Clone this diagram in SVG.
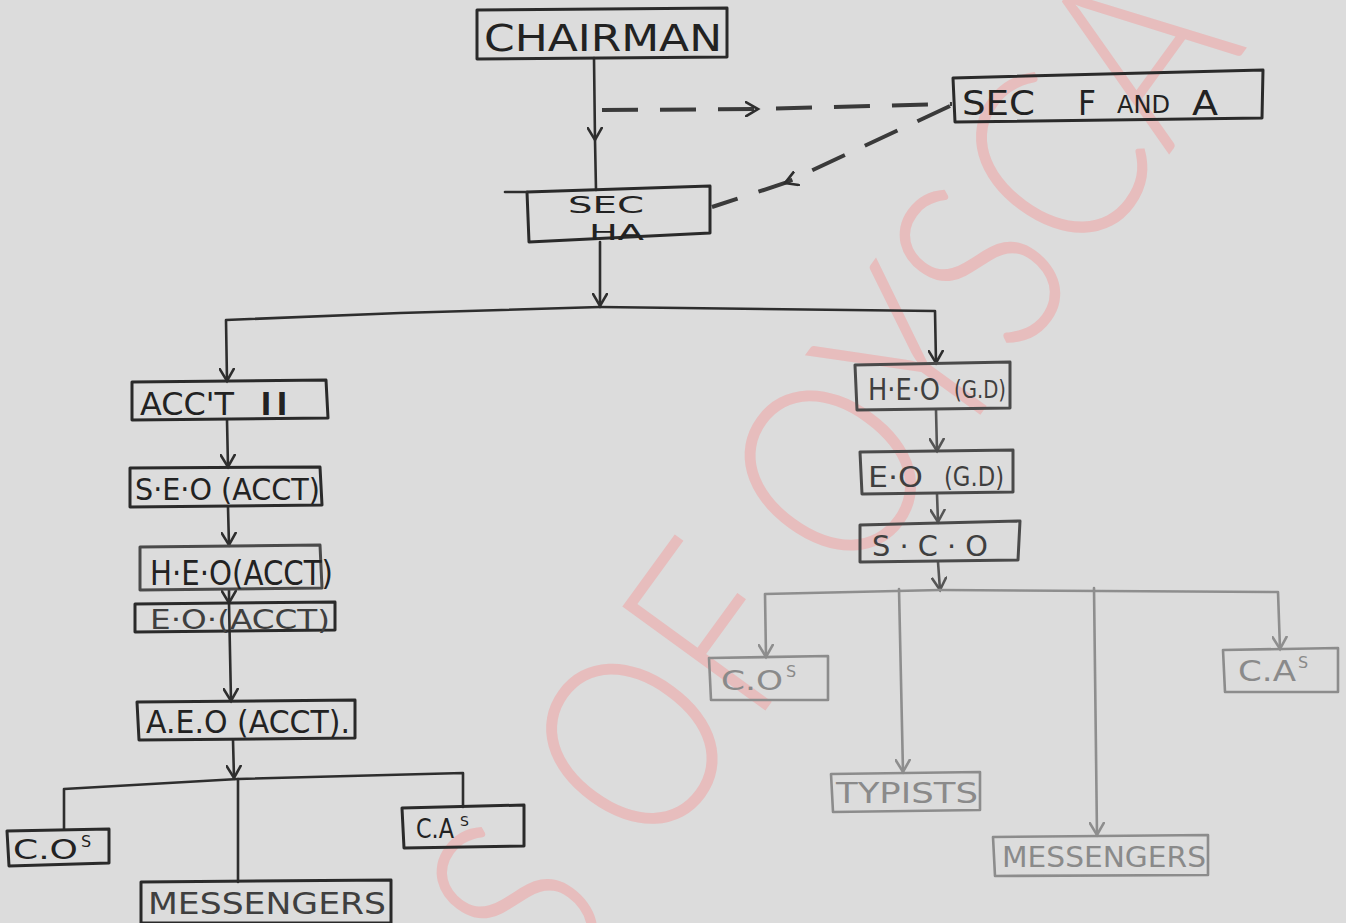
<svg xmlns="http://www.w3.org/2000/svg" width="1346" height="923" viewBox="0 0 1346 923">
<defs>
<style>
.bg{fill:#dcdcdc}
.wm{font-family:Lato,"DejaVu Sans",sans-serif;font-weight:300;fill:#f0a4a4;opacity:.55}
.box{fill:none;stroke:#2a2a2a;stroke-width:3;stroke-linejoin:round}
.box.mid{stroke:#4a4a4a}
.box.lt{stroke:#8c8c8c;stroke-width:2.6}
.ln{fill:none;stroke:#2e2e2e;stroke-width:2.6;stroke-linecap:round;stroke-linejoin:round}
.ln.mid{stroke:#555}
.ln.lt{stroke:#8e8e8e}
.dash{fill:none;stroke:#3a3a3a;stroke-width:4;stroke-dasharray:36 22;stroke-linecap:butt}
.t{font-family:"DejaVu Sans","Liberation Sans",sans-serif;fill:#222}
.t.mid{fill:#3f3f3f}
.t.lt{fill:#8a8a8a}
</style>
<marker id="ad" viewBox="0 0 16 16" refX="13" refY="8" markerWidth="16" markerHeight="16" markerUnits="userSpaceOnUse" orient="auto">
<path d="M1,1 L13,8 L1,15" fill="none" stroke="#2e2e2e" stroke-width="2.6" stroke-linecap="round"/>
</marker>
<marker id="am" viewBox="0 0 16 16" refX="13" refY="8" markerWidth="16" markerHeight="16" markerUnits="userSpaceOnUse" orient="auto">
<path d="M1,1 L13,8 L1,15" fill="none" stroke="#555" stroke-width="2.6" stroke-linecap="round"/>
</marker>
<marker id="al" viewBox="0 0 16 16" refX="13" refY="8" markerWidth="16" markerHeight="16" markerUnits="userSpaceOnUse" orient="auto">
<path d="M1,1 L13,8 L1,15" fill="none" stroke="#8e8e8e" stroke-width="2.6" stroke-linecap="round"/>
</marker>
</defs>
<rect class="bg" x="0" y="0" width="1346" height="923"/>
<g id="watermark">
<text class="wm" x="0" y="0" font-size="250" transform="translate(555,1000) rotate(-54)" textLength="1180" lengthAdjust="spacingAndGlyphs">S OF OYSCA</text>
</g>
<g id="connectors">
<path class="ln" d="M594,58 L595,140 L596,190" marker-mid="url(#ad)"/>
<path class="dash" d="M602,110 L758,109 L952,104" marker-mid="url(#ad)"/>
<path class="dash" d="M950,106 L785,183 L712,207" marker-mid="url(#ad)"/>
<path class="ln" d="M600,242 L600,306" marker-end="url(#ad)"/>
<path class="ln" d="M600,307 L400,313 L226,320 L227,381" marker-end="url(#ad)"/>
<path class="ln" d="M600,307 L935,311 L936,363" marker-end="url(#ad)"/>
<path class="ln" d="M227,420 L228,467" marker-end="url(#ad)"/>
<path class="ln" d="M228,507 L229,545" marker-end="url(#ad)"/>
<path class="ln" d="M229,590 L229,603 L231,701" marker-mid="url(#ad)" marker-end="url(#ad)"/>
<path class="ln" d="M233,740 L234,778" marker-end="url(#ad)"/>
<path class="ln" d="M64,829 L64,789 L238,779 L463,773 L463,807"/>
<path class="ln" d="M238,779 L238,882"/>
<path class="ln mid" d="M936,410 L937,451" marker-end="url(#am)"/>
<path class="ln mid" d="M937,494 L938,522" marker-end="url(#am)"/>
<path class="ln mid" d="M938,562 L940,590" marker-end="url(#am)"/>
<path class="ln lt" d="M940,590 L765,594 L766,657" marker-end="url(#al)"/>
<path class="ln lt" d="M940,590 L1278,592 L1280,649" marker-end="url(#al)"/>
<path class="ln lt" d="M899,589 L903,772" marker-end="url(#al)"/>
<path class="ln lt" d="M1094,588 L1097,835" marker-end="url(#al)"/>
</g>
<g id="n-chairman">
<polygon class="box" points="477,10 727,8 727,57 477,59"/>
<text class="t" x="484" y="51" font-size="38" textLength="238" lengthAdjust="spacingAndGlyphs">CHAIRMAN</text>
</g>
<g id="n-sec-f-and-a">
<polygon class="box" points="953,78 1263,70 1262,118 955,122"/>
<text class="t" x="962" y="115" font-size="34" textLength="73" lengthAdjust="spacingAndGlyphs">SEC</text>
<text class="t" x="1078" y="115" font-size="34" textLength="18" lengthAdjust="spacingAndGlyphs">F</text>
<text class="t" x="1117" y="113" font-size="25" textLength="53" lengthAdjust="spacingAndGlyphs">AND</text>
<text class="t" x="1192" y="115" font-size="34" textLength="26" lengthAdjust="spacingAndGlyphs">A</text>
</g>
<g id="n-sec-ha">
<polygon class="box" points="527,192 710,186 710,233 529,242"/>
<path class="ln" d="M505,192 L527,192"/>
<text class="t" x="568" y="213" font-size="23" textLength="76" lengthAdjust="spacingAndGlyphs">SEC</text>
<text class="t" x="589" y="240" font-size="22" textLength="55" lengthAdjust="spacingAndGlyphs">HA</text>
</g>
<g id="n-acct-ii">
<polygon class="box" points="132,382 326,380 328,418 132,420"/>
<text class="t" x="140" y="415" font-size="32" textLength="94" lengthAdjust="spacingAndGlyphs">ACC'T</text>
<text class="t" x="258" y="415" font-size="32" textLength="32" lengthAdjust="spacingAndGlyphs">II</text>
</g>
<g id="n-seo-acct">
<polygon class="box" points="130,468 320,467 322,505 130,507"/>
<text class="t" x="135" y="500" font-size="30" textLength="185" lengthAdjust="spacingAndGlyphs">S·E·O (ACCT)</text>
</g>
<g id="n-heo-acct">
<polygon class="box mid" points="140,547 320,545 322,588 140,590"/>
<text class="t" x="150" y="585" font-size="33" textLength="183" lengthAdjust="spacingAndGlyphs">H·E·O(ACCT)</text>
</g>
<g id="n-eo-acct">
<polygon class="box" points="135,604 335,602 335,630 135,632"/>
<text class="t mid" x="150" y="629" font-size="26" textLength="180" lengthAdjust="spacingAndGlyphs">E·O·(ACCT)</text>
</g>
<g id="n-aeo-acct">
<polygon class="box" points="137,702 355,700 355,738 139,740"/>
<text class="t" x="146" y="733" font-size="32" textLength="204" lengthAdjust="spacingAndGlyphs">A.E.O (ACCT).</text>
</g>
<g id="n-cos-left">
<polygon class="box" points="7,831 109,829 109,863 9,866"/>
<text class="t" x="13" y="859" font-size="26"><tspan textLength="65" lengthAdjust="spacingAndGlyphs">C.O</tspan><tspan dx="3" dy="-12" font-size="16">S</tspan></text>
</g>
<g id="n-cas-left">
<polygon class="box" points="402,808 524,805 524,846 404,848"/>
<text class="t" x="416" y="838" font-size="26"><tspan textLength="38" lengthAdjust="spacingAndGlyphs">C.A</tspan><tspan dx="6" dy="-12" font-size="14">S</tspan></text>
</g>
<g id="n-messengers-left">
<polygon class="box" points="141,882 391,880 391,923 141,923"/>
<text class="t mid" x="148" y="914" font-size="30" textLength="238" lengthAdjust="spacingAndGlyphs">MESSENGERS</text>
</g>
<g id="n-heo-gd">
<polygon class="box mid" points="855,365 1010,362 1010,408 857,410"/>
<text class="t mid" x="868" y="400" font-size="30" textLength="72" lengthAdjust="spacingAndGlyphs">H·E·O</text>
<text class="t mid" x="954" y="398" font-size="24" textLength="52" lengthAdjust="spacingAndGlyphs">(G.D)</text>
</g>
<g id="n-eo-gd">
<polygon class="box mid" points="860,452 1013,450 1013,492 862,494"/>
<text class="t mid" x="868" y="487" font-size="28" textLength="55" lengthAdjust="spacingAndGlyphs">E·O</text>
<text class="t mid" x="944" y="486" font-size="26" textLength="60" lengthAdjust="spacingAndGlyphs">(G.D)</text>
</g>
<g id="n-sco">
<polygon class="box mid" points="860,525 1020,521 1018,560 860,562"/>
<text class="t mid" x="872" y="556" font-size="28" textLength="116" lengthAdjust="spacingAndGlyphs">S · C · O</text>
</g>
<g id="n-cos-right">
<polygon class="box lt" points="709,658 828,656 828,700 711,700"/>
<text class="t lt" x="721" y="690" font-size="26"><tspan textLength="62" lengthAdjust="spacingAndGlyphs">C.O</tspan><tspan dx="3" dy="-13" font-size="16">S</tspan></text>
</g>
<g id="n-cas-right">
<polygon class="box lt" points="1223,650 1338,648 1338,692 1225,692"/>
<text class="t lt" x="1238" y="681" font-size="28"><tspan textLength="58" lengthAdjust="spacingAndGlyphs">C.A</tspan><tspan dx="2" dy="-13" font-size="16">S</tspan></text>
</g>
<g id="n-typists">
<polygon class="box lt" points="831,774 980,772 980,810 833,812"/>
<text class="t lt" x="836" y="803" font-size="28" textLength="142" lengthAdjust="spacingAndGlyphs">TYPISTS</text>
</g>
<g id="n-messengers-right">
<polygon class="box lt" points="993,837 1208,835 1208,875 995,876"/>
<text class="t lt" x="1002" y="867" font-size="28" textLength="204" lengthAdjust="spacingAndGlyphs">MESSENGERS</text>
</g>
</svg>
